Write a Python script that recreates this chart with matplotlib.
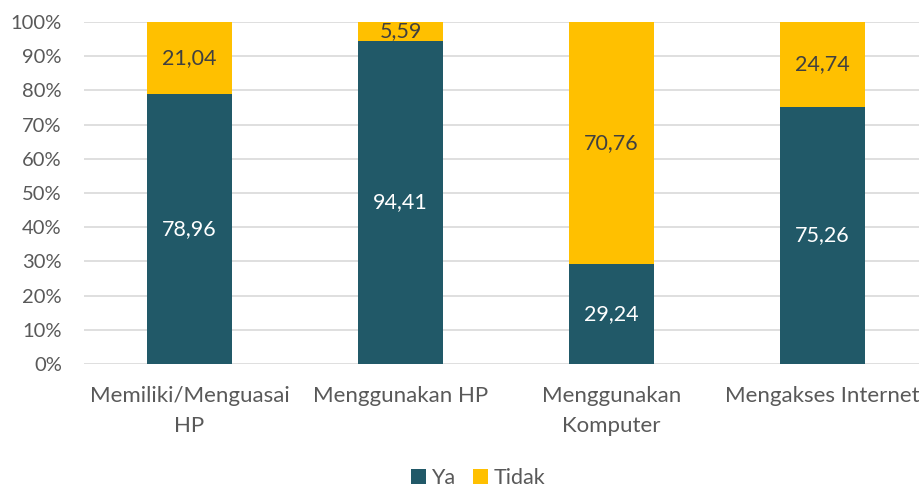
import matplotlib
matplotlib.use("Agg")
import matplotlib.pyplot as plt
import numpy as np
from matplotlib.ticker import PercentFormatter

# --- Data ---
categories = ["Memiliki/Menguasai\nHP", "Menggunakan HP", "Menggunakan\nKomputer", "Mengakses Internet"]
ya = [78.96, 94.41, 29.24, 75.26]
tidak = [21.04, 5.59, 70.76, 24.74]
series_names = ["Ya", "Tidak"]

COL_YA = "#215968"
COL_TIDAK = "#FFC000"
COL_TEXT = "#595959"

plt.rcParams['font.family'] = ['Lato', 'DejaVu Sans']

fig = plt.figure(figsize=(9.19, 4.87), dpi=100)
ax = fig.add_axes([84 / 919, 123 / 487, 844 / 919, 342 / 487])

x = np.arange(len(categories))
w = 0.403
b1 = ax.bar(x, ya, w, color=COL_YA, label=series_names[0], zorder=3)
b2 = ax.bar(x, tidak, w, bottom=ya, color=COL_TIDAK, label=series_names[1], zorder=3)

# value labels (comma decimal)
for xi, v in zip(x, ya):
    ax.text(xi, v / 2, f"{v:.2f}".replace(".", ","), ha="center", va="center",
            color="white", fontsize=15.5, zorder=4)
for xi, v, base in zip(x, tidak, ya):
    ax.text(xi, base + v / 2, f"{v:.2f}".replace(".", ","), ha="center", va="center",
            color="#404040", fontsize=15.5, zorder=4)

ax.set_xlim(-0.5, len(categories) - 0.5)
ax.set_ylim(0, 100)
ax.set_yticks(np.arange(0, 101, 10))
ax.yaxis.set_major_formatter(PercentFormatter(decimals=0))
ax.set_xticks(x)
ax.set_xticklabels(categories, linespacing=1.6)
ax.tick_params(axis="both", length=0, colors=COL_TEXT)
ax.tick_params(axis="x", pad=16, labelsize=16)
ax.tick_params(axis="y", pad=16, labelsize=14.5)

ax.grid(axis="y", color="#D9D9D9", linewidth=1.2, zorder=0)
for s in ax.spines.values():
    s.set_visible(False)

fig.legend(handles=[b1, b2], labels=series_names, loc="center", bbox_to_anchor=(478 / 919, 9 / 487),
           ncol=2, frameon=False, fontsize=15.5, handlelength=0.7, handleheight=0.7,
           handletextpad=0.25, columnspacing=0.8, labelcolor=COL_TEXT)

fig.savefig("out.png", dpi=100)
